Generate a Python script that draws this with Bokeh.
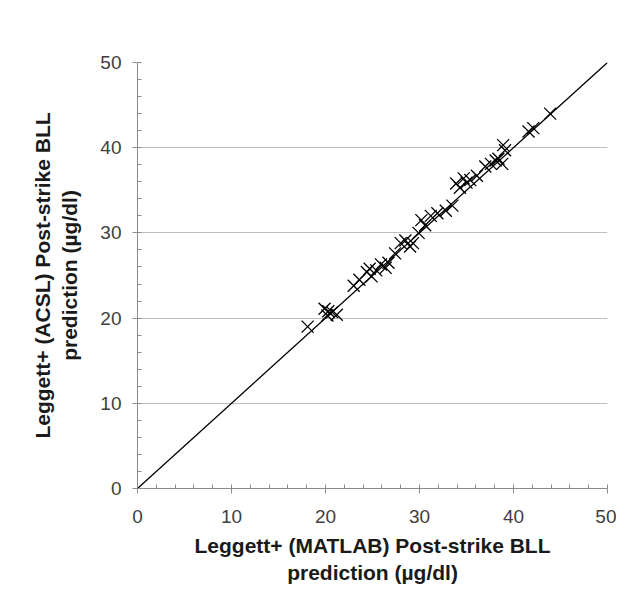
from bokeh.plotting import figure
from bokeh.models import Range1d, FixedTicker
from bokeh.embed import file_html
from bokeh.resources import INLINE

# Leggett+ (MATLAB) vs Leggett+ (ACSL) post-strike BLL predictions (µg/dl)
matlab = [18.1, 19.9, 20.3, 20.7, 21.2, 20.2, 23.0, 23.6, 24.4, 24.7, 24.9, 25.4, 25.9,
          26.4, 26.7, 27.4, 28.0, 28.5, 29.0, 29.3, 29.9, 30.2, 30.6, 31.2, 31.9, 32.8,
          33.5, 33.9, 34.3, 34.7, 35.0, 35.4, 36.1, 37.0, 37.6, 38.1, 38.4, 38.8, 38.9,
          39.1, 41.6, 42.1, 43.9]
acsl = [19.0, 21.1, 20.8, 20.7, 20.4, 20.3, 23.8, 24.5, 25.4, 25.8, 24.9, 25.6, 26.3,
        25.9, 26.5, 27.6, 28.8, 29.1, 28.4, 28.8, 30.0, 31.5, 30.9, 32.0, 32.3, 32.6,
        33.2, 35.8, 35.3, 36.4, 35.9, 36.2, 36.7, 37.8, 38.1, 38.5, 38.7, 38.1, 40.3,
        39.7, 41.9, 42.3, 44.0]
identity = [0, 50]
ticks = [0, 10, 20, 30, 40, 50]

p = figure(width=616, height=587, output_backend="svg", toolbar_location=None,
           x_range=Range1d(0, 50), y_range=Range1d(0, 50),
           min_border_left=137, min_border_right=9, min_border_top=62,
           min_border_bottom=92)
p.outline_line_color = None
p.background_fill_color = "white"
p.border_fill_color = "white"

p.line(identity, identity, line_color="black", line_width=1.3)
p.scatter(matlab, acsl, marker="x", size=17, line_color="black", line_width=1.3)

for ax in (p.xaxis[0], p.yaxis[0]):
    ax.ticker = FixedTicker(ticks=ticks, minor_ticks=list(range(0, 51, 2)))
    ax.axis_line_color = "#8c8c8c"
    ax.major_tick_line_color = "#8c8c8c"
    ax.minor_tick_line_color = "#8c8c8c"
    ax.major_tick_out = 5
    ax.major_tick_in = 0
    ax.minor_tick_in = 4
    ax.minor_tick_out = 0
    ax.major_label_text_font = "Liberation Sans"
    ax.major_label_text_font_size = "19px"
    ax.major_label_text_color = "#404040"
    ax.axis_label_text_font = "Liberation Sans"
    ax.axis_label_text_font_style = "bold"
    ax.axis_label_text_font_size = "21px"
    ax.axis_label_text_color = "#1a1a1a"

p.xaxis.axis_label = "Leggett+ (MATLAB) Post-strike BLL\nprediction (µg/dl)"
p.yaxis.axis_label = "Leggett+ (ACSL) Post-strike BLL\nprediction (µg/dl)"
p.xaxis.major_label_standoff = 16
p.yaxis.major_label_standoff = 11
p.xaxis.axis_label_standoff = 8
p.yaxis.axis_label_standoff = 16

p.xgrid.grid_line_color = None
p.ygrid.ticker = FixedTicker(ticks=ticks)
p.ygrid.grid_line_color = "#bdbdbd"
p.ygrid.grid_line_width = 1

open("out.html", "w").write(file_html(p, INLINE))
